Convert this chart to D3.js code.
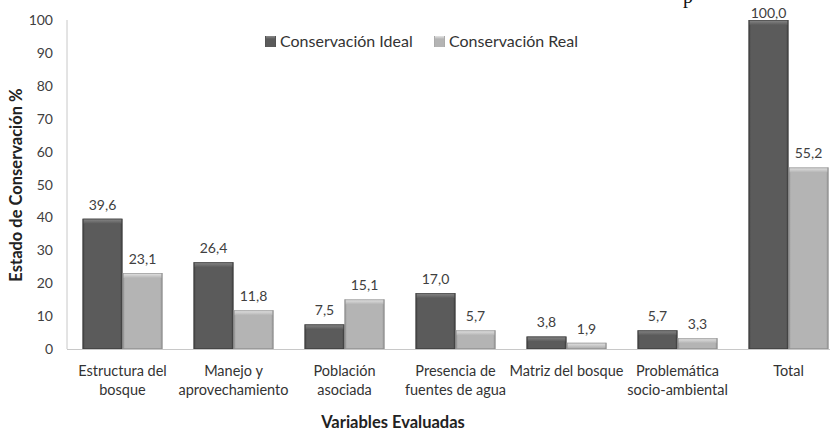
<!DOCTYPE html>
<html><head><meta charset="utf-8">
<script src="https://cdn.jsdelivr.net/npm/d3@7"></script>
<style>body{margin:0;background:#fff}svg{display:block}</style>
</head><body>
<svg id="c" width="830" height="432"></svg>
<script>
const categories = [["Estructura del","bosque"],["Manejo y","aprovechamiento"],["Población","asociada"],["Presencia de","fuentes de agua"],["Matriz del bosque"],["Problemática","socio-ambiental"],["Total"]];
const ideal = [39.6, 26.4, 7.5, 17.0, 3.8, 5.7, 100.0];
const real  = [23.1, 11.8, 15.1, 5.7, 1.9, 3.3, 55.2];
const yTicks = [0,10,20,30,40,50,60,70,80,90,100];
const seriesNames = ["Conservación Ideal","Conservación Real"];

const svg = d3.select("#c");
const font = "Lato, 'Open Sans', sans-serif";
const x0 = 67, step = 111;
const x = d3.scaleBand().domain(d3.range(categories.length)).range([x0, x0 + step*categories.length]).paddingInner(31/111).paddingOuter(15.5/111);
const xs = d3.scaleBand().domain([0,1]).range([0, x.bandwidth()]);
const y = d3.scaleLinear().domain([0,100]).range([349,20]);

// gradients
const defs = svg.append("defs");
function hgrad(id, edge, mid){
  const g = defs.append("linearGradient").attr("id",id).attr("x1","0").attr("x2","1").attr("y1","0").attr("y2","0");
  [[0,edge],[0.06,mid],[0.94,mid],[1,edge]].forEach(s=>g.append("stop").attr("offset",s[0]).attr("stop-color",s[1]));
}
function vgrad(id, a, b){
  const g = defs.append("linearGradient").attr("id",id).attr("x1","0").attr("x2","0").attr("y1","0").attr("y2","1");
  g.append("stop").attr("offset",0).attr("stop-color",a);
  g.append("stop").attr("offset",1).attr("stop-color",b);
}
hgrad("gd","#3c3c3c","#5b5b5b");
hgrad("gl","#8e8e8e","#b4b4b4");
vgrad("td","#8a8a8a","#5b5b5b");
vgrad("tl","#e6e6e6","#b4b4b4");

// axes
svg.append("line").attr("x1",x0).attr("x2",x0).attr("y1",y(100)).attr("y2",y(0)).attr("stroke","#c8c8c8");
svg.append("line").attr("x1",x0).attr("x2",830).attr("y1",y(0)+0.5).attr("y2",y(0)+0.5).attr("stroke","#c8c8c8");
svg.append("g").selectAll("text").data(yTicks).join("text")
  .attr("x",53).attr("y",d=>y(d)+5).attr("text-anchor","end")
  .attr("font-family",font).attr("font-size",14).attr("fill","#404040").text(d=>d);

// bars
const data = [ideal, real];
const fills = [["url(#gd)","url(#td)","#3a3a3a"],["url(#gl)","url(#tl)","#8a8a8a"]];
data.forEach((arr, s)=>{
  const g = svg.append("g");
  arr.forEach((v,i)=>{
    const bx = x(i) + xs(s), bw = xs.bandwidth(), by = y(v), bh = y(0)-y(v);
    g.append("rect").attr("x",bx).attr("y",by).attr("width",bw).attr("height",bh).attr("fill",fills[s][0]);
    const th = Math.min(5, bh);
    g.append("rect").attr("x",bx+1).attr("y",by).attr("width",bw-2).attr("height",th).attr("fill",fills[s][1]);
    g.append("rect").attr("x",bx+0.5).attr("y",by+0.5).attr("width",bw-1).attr("height",Math.max(0,bh-1)).attr("fill","none").attr("stroke",fills[s][2]).attr("stroke-width",1).attr("stroke-opacity",0.6);
    g.append("text").attr("x",bx+bw/2).attr("y",Math.max(by-9,18)).attr("text-anchor","middle")
      .attr("font-family",font).attr("font-size",14).attr("fill","#404040").text(v.toFixed(1).replace(".",","));
  });
});

// category labels
const cl = svg.append("g");
categories.forEach((lines,i)=>{
  const t = cl.append("text").attr("text-anchor","middle").attr("font-family",font).attr("font-size",14.5).attr("fill","#333");
  lines.forEach((ln,j)=>t.append("tspan").attr("x",x(i)+x.bandwidth()/2).attr("y",376+j*18.5).text(ln));
});

// axis titles
svg.append("text").attr("x",393).attr("y",428).attr("text-anchor","middle").attr("font-family",font).attr("font-weight","bold").attr("font-size",16.5).attr("fill","#222").text("Variables Evaluadas");
svg.append("text").attr("transform","translate(22,185) rotate(-90)").attr("text-anchor","middle").attr("font-family",font).attr("font-weight","bold").attr("font-size",16.5).attr("fill","#222").text("Estado de Conservación %");

// legend
const lg = svg.append("g");
const lx = [265, 434];
seriesNames.forEach((n,i)=>{
  lg.append("rect").attr("x",lx[i]).attr("y",36).attr("width",11).attr("height",11).attr("fill",i?"url(#gl)":"url(#gd)");
  lg.append("rect").attr("x",lx[i]+1).attr("y",36).attr("width",9).attr("height",3).attr("fill",i?"url(#tl)":"url(#td)");
  lg.append("text").attr("x",lx[i]+15).attr("y",47).attr("font-family",font).attr("font-size",16).attr("fill","#333").text(n);
});

// stray page text at top (cut off in the reference too)
svg.append("text").attr("x",683).attr("y",3).attr("font-family","'Liberation Serif', serif").attr("font-size",20).attr("fill","#111").text("p");
</script>
</body></html>
